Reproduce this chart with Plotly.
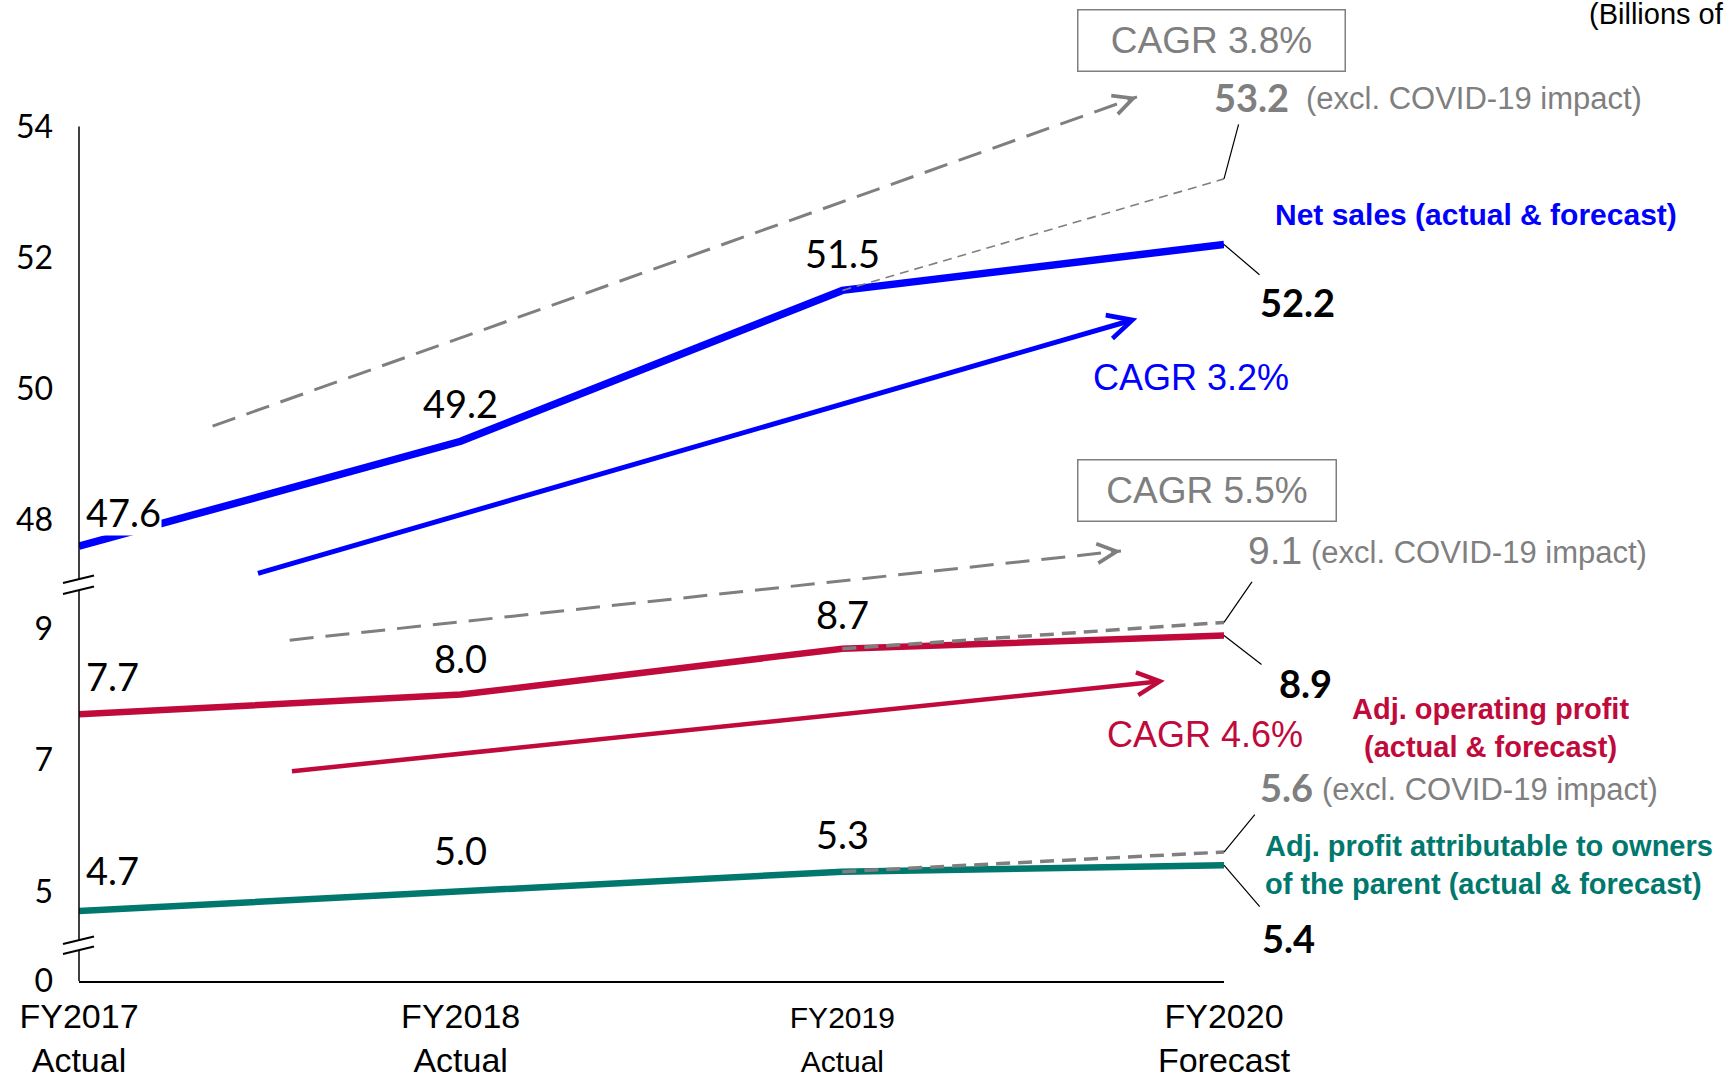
import math
import plotly.graph_objects as go

# ---------------- data ----------------
periods = ["FY2017", "FY2018", "FY2019", "FY2020"]
period_status = ["Actual", "Actual", "Actual", "Forecast"]
net_sales = [47.6, 49.2, 51.5, 52.2]
adj_operating_profit = [7.7, 8.0, 8.7, 8.9]
adj_profit_owners = [4.7, 5.0, 5.3, 5.4]
net_sales_excl_covid = 53.2
operating_profit_excl_covid = 9.1
profit_owners_excl_covid = 5.6
cagr_net_sales = "CAGR 3.2%"
cagr_net_sales_excl = "CAGR 3.8%"
cagr_operating = "CAGR 4.6%"
cagr_operating_excl = "CAGR 5.5%"
# CAGR trend arrows: [start, end] (x in period index, y in value units)
arrow_sales_x = [0.465, 2.773]
arrow_sales_y = [47.18, 51.07]
arrow_sales_excl_x = [0.35, 2.772]
arrow_sales_excl_y = [49.43, 54.45]
arrow_op_x = [0.554, 2.845]
arrow_op_y = [6.83, 8.21]
arrow_op_excl_x = [0.552, 2.730]
arrow_op_excl_y = [8.83, 10.19]
ticks_upper = [48, 50, 52, 54]
ticks_middle = [5, 7, 9]
ticks_lower = [0]

# ---------------- geometry / style ----------------
W, H = 1728, 1078
X0, X1 = 79, 1224          # plot area in px
YB = 981                   # px of x-axis line
UNIT = 65.6                # px per value unit (same on all segments)
XUNIT = (X1 - X0) / 3.0

BLUE = "#0000FF"
CRIMSON = "#C00A3C"
TEAL = "#00786E"
GRAY = "#7F7F7F"
NUMF = "Lato, Carlito, Calibri, sans-serif"
TXTF = "Liberation Sans, Arial, sans-serif"


def pY(p):
    return (YB - p) / YB


def pX(p):
    return (p - X0) / (X1 - X0)


def rng(anchor_val, anchor_px, top_px, bot_px):
    return [anchor_val - (bot_px - anchor_px) / UNIT, anchor_val + (anchor_px - top_px) / UNIT]


# axis segments (anchor value at anchor pixel)
UP = dict(val=48, px=520, top=0, bot=600)
MID = dict(val=9, px=629, top=455, bot=965)
LOW = dict(val=0, px=981, top=925, bot=981)


def v_of(seg, p):
    return seg["val"] + (seg["px"] - p) / UNIT


fig = go.Figure()

xi = list(range(len(periods)))

# main series
fig.add_trace(go.Scatter(x=xi, y=net_sales, yaxis="y3", mode="lines",
                         line=dict(color=BLUE, width=7.5), hoverinfo="skip"))
fig.add_trace(go.Scatter(x=xi, y=adj_operating_profit, yaxis="y2", mode="lines",
                         line=dict(color=CRIMSON, width=6.5), hoverinfo="skip"))
fig.add_trace(go.Scatter(x=xi, y=adj_profit_owners, yaxis="y2", mode="lines",
                         line=dict(color=TEAL, width=6.5), hoverinfo="skip"))

# excl. COVID-19 dashed extensions
fig.add_trace(go.Scatter(x=[2, 3], y=[net_sales[2], net_sales_excl_covid], yaxis="y3", mode="lines",
                         line=dict(color=GRAY, width=1.6, dash="9px,6px"), hoverinfo="skip"))
fig.add_trace(go.Scatter(x=[2, 3], y=[adj_operating_profit[2], operating_profit_excl_covid], yaxis="y2",
                         mode="lines", line=dict(color=GRAY, width=3.5, dash="14px,8px"), hoverinfo="skip"))
fig.add_trace(go.Scatter(x=[2, 3], y=[adj_profit_owners[2], profit_owners_excl_covid], yaxis="y2",
                         mode="lines", line=dict(color=GRAY, width=3.5, dash="14px,8px"), hoverinfo="skip"))

# dashed CAGR arrows (lines)
fig.add_trace(go.Scatter(x=arrow_sales_excl_x, y=arrow_sales_excl_y, yaxis="y3", mode="lines",
                         line=dict(color=GRAY, width=3, dash="24px,12px"), hoverinfo="skip"))
fig.add_trace(go.Scatter(x=arrow_op_excl_x, y=arrow_op_excl_y, yaxis="y2", mode="lines",
                         line=dict(color=GRAY, width=3, dash="24px,12px"), hoverinfo="skip"))

ann = []


def head_only(xs, ys, yref, color, width, size):
    dx = (xs[1] - xs[0]) * XUNIT
    dy = -(ys[1] - ys[0]) * UNIT
    n = math.hypot(dx, dy)
    ann.append(dict(x=xs[1], y=ys[1], xref="x", yref=yref, text="", showarrow=True,
                    ax=-dx / n * 10, ay=-dy / n * 10, arrowhead=5, arrowwidth=width,
                    arrowsize=size, arrowcolor=color, standoff=0))


head_only(arrow_sales_excl_x, arrow_sales_excl_y, "y3", GRAY, 2.4, 1.6)
head_only(arrow_op_excl_x, arrow_op_excl_y, "y2", GRAY, 2.4, 1.6)

# solid CAGR arrows
ann.append(dict(x=arrow_sales_x[1], y=arrow_sales_y[1], xref="x", yref="y3",
                ax=arrow_sales_x[0], ay=arrow_sales_y[0], axref="x", ayref="y3",
                text="", showarrow=True, arrowhead=5, arrowwidth=5, arrowsize=0.95,
                arrowcolor=BLUE, standoff=0))
ann.append(dict(x=arrow_op_x[1], y=arrow_op_y[1], xref="x", yref="y2",
                ax=arrow_op_x[0], ay=arrow_op_y[0], axref="x", ayref="y2",
                text="", showarrow=True, arrowhead=5, arrowwidth=4.5, arrowsize=1.0,
                arrowcolor=CRIMSON, standoff=0))

# data labels FY2017-FY2019
lab_font = dict(family=NUMF, size=38, color="black")
for vals, yref, shifts in [(net_sales, "y3", [34, 38, 37]),
                           (adj_operating_profit, "y2", [38, 37, 35]),
                           (adj_profit_owners, "y2", [41, 41, 38])]:
    for i in range(3):
        d = dict(x=i, y=vals[i], xref="x", yref=yref, text=f"{vals[i]:.1f}", showarrow=False,
                 xanchor="center", yanchor="middle", yshift=shifts[i], font=lab_font)
        if i == 0:
            d.update(xanchor="left", xshift=6, bgcolor="white", borderpad=0)
        ann.append(d)

# FY2020 forecast labels with leaders
bold_font = dict(family=NUMF, size=38, color="black")
for val, yref, lax, lay, tx, ty in [(net_sales[3], "y3", 37, 31.5, 73, -57.5),
                                    (adj_operating_profit[3], "y2", 39, 30, 81, -47),
                                    (adj_profit_owners[3], "y2", 37, 43, 64, -73)]:
    ann.append(dict(x=3, y=val, xref="x", yref=yref, text="", showarrow=True, ax=lax, ay=lay,
                    arrowhead=0, arrowwidth=1.2, arrowcolor="black", standoff=0))
    ann.append(dict(x=3, y=val, xref="x", yref=yref, text=f"<b>{val:.1f}</b>", showarrow=False,
                    xanchor="center", yanchor="middle", xshift=tx, yshift=ty, font=bold_font))

# excl. COVID-19 labels with leaders
excl_font = dict(family=TXTF, size=31, color=GRAY)
for val, yref, lax, lay, nx, ny, ex, bold in [
        (net_sales_excl_covid, "y3", 15, -56, -12, 82, 80, True),
        (operating_profit_excl_covid, "y2", 29, -42, 22, 72, 85, False),
        (profit_owners_excl_covid, "y2", 32, -39, 34, 65, 96, True)]:
    ann.append(dict(x=3, y=val, xref="x", yref=yref, text="", showarrow=True, ax=lax, ay=lay,
                    arrowhead=0, arrowwidth=1.2, arrowcolor="black", standoff=0))
    if bold:
        t = f"<b>{val:.1f}</b>"
        f = dict(family=NUMF, size=38, color=GRAY)
    else:
        t = f"{val:.1f}"
        f = dict(family=TXTF, size=39, color=GRAY)
    ann.append(dict(x=3, y=val, xref="x", yref=yref, text=t, showarrow=False,
                    xanchor="left", yanchor="middle", xshift=nx, yshift=ny, font=f))
    ann.append(dict(x=3, y=val, xref="x", yref=yref, text="(excl. COVID-19 impact)", showarrow=False,
                    xanchor="left", yanchor="middle", xshift=ex, yshift=ny - 2, font=excl_font))


def paper_text(x, y, text, font, xanchor="left", **kw):
    d = dict(x=pX(x), y=pY(y), xref="paper", yref="paper", xanchor=xanchor, yanchor="middle",
             text=text, showarrow=False, font=font)
    d.update(kw)
    ann.append(d)


# CAGR boxes and texts
paper_text(1211.5, 41, cagr_net_sales_excl, dict(family=TXTF, size=37, color=GRAY), xanchor="center",
           width=266, height=60, borderpad=0, bordercolor=GRAY, borderwidth=1.5)
paper_text(1207, 490, cagr_operating_excl, dict(family=TXTF, size=37, color=GRAY), xanchor="center",
           width=257, height=60, borderpad=0, bordercolor=GRAY, borderwidth=1.5)
paper_text(1091, 377, cagr_net_sales, dict(family=TXTF, size=36, color=BLUE))
paper_text(1105, 734, cagr_operating, dict(family=TXTF, size=36, color=CRIMSON))

# series labels
paper_text(1273, 215, "<b>Net sales (actual & forecast)</b>", dict(family=TXTF, size=30, color=BLUE))
paper_text(1490, 728, "<b>Adj. operating profit<br>(actual & forecast)</b>",
           dict(family=TXTF, size=29, color=CRIMSON), xanchor="center", align="center")
paper_text(1263, 865, "<b>Adj. profit attributable to owners<br>of the parent (actual & forecast)</b>",
           dict(family=TXTF, size=29, color=TEAL), align="left")
paper_text(1587, 14, "(Billions of yen)", dict(family=TXTF, size=29, color="black"))

# axis line segments and break marks
shapes = []
LINE = dict(color="black", width=1.5)
for yref, seg, a, b in [("y3", UP, 54, v_of(UP, 579)),
                        ("y2", MID, v_of(MID, 590), v_of(MID, 940)),
                        ("y", LOW, v_of(LOW, 950), 0)]:
    shapes.append(dict(type="line", xref="paper", yref=yref, x0=0, x1=0, y0=a, y1=b, line=LINE))
for (xa, ya, xb, yb) in [(63, 583, 94, 575.5), (63, 594, 94, 586.5),
                         (63, 944, 94, 936.5), (63, 954, 94, 946.5)]:
    shapes.append(dict(type="line", xref="paper", yref="paper", x0=pX(xa), y0=pY(ya), x1=pX(xb), y1=pY(yb),
                       line=dict(color="black", width=2)))

ticktext = []
for p, s in zip(periods, period_status):
    if p == "FY2019":
        ticktext.append(f'<span style="font-size:30px">{p}<br>{s}</span>')
    else:
        ticktext.append(f"{p}<br>{s}")

yax_common = dict(showgrid=False, zeroline=False, showline=False, ticks="", anchor="x",
                  automargin=False,
                  tickfont=dict(family=NUMF, size=32, color="black"), ticklabelstandoff=25,
                  fixedrange=True)

fig.update_layout(
    template="none",
    width=W, height=H, autosize=False,
    margin=dict(l=X0, r=W - X1, t=0, b=H - YB, pad=0),
    paper_bgcolor="white", plot_bgcolor="rgba(0,0,0,0)",
    showlegend=False,
    xaxis=dict(range=[0, 3], tickvals=xi, ticktext=ticktext, showgrid=False, zeroline=False,
               showline=True, linecolor="black", linewidth=1.5, ticks="", anchor="y",
               automargin=False,
               tickfont=dict(family=TXTF, size=34, color="black"), ticklabelstandoff=4,
               fixedrange=True),
    yaxis=dict(domain=[0, pY(LOW["top"])], range=rng(LOW["val"], LOW["px"], LOW["top"], LOW["bot"]),
               tickvals=ticks_lower, **yax_common),
    yaxis2=dict(domain=[pY(MID["bot"]), pY(MID["top"])], range=rng(MID["val"], MID["px"], MID["top"], MID["bot"]),
                tickvals=ticks_middle, **yax_common),
    yaxis3=dict(domain=[pY(UP["bot"]), 1], range=rng(UP["val"], UP["px"], UP["top"], UP["bot"]),
                tickvals=ticks_upper, **yax_common),
    annotations=ann,
    shapes=shapes,
)

fig.write_html("out.html", config={"displayModeBar": False},
               post_script="document.body.style.margin='0';")
